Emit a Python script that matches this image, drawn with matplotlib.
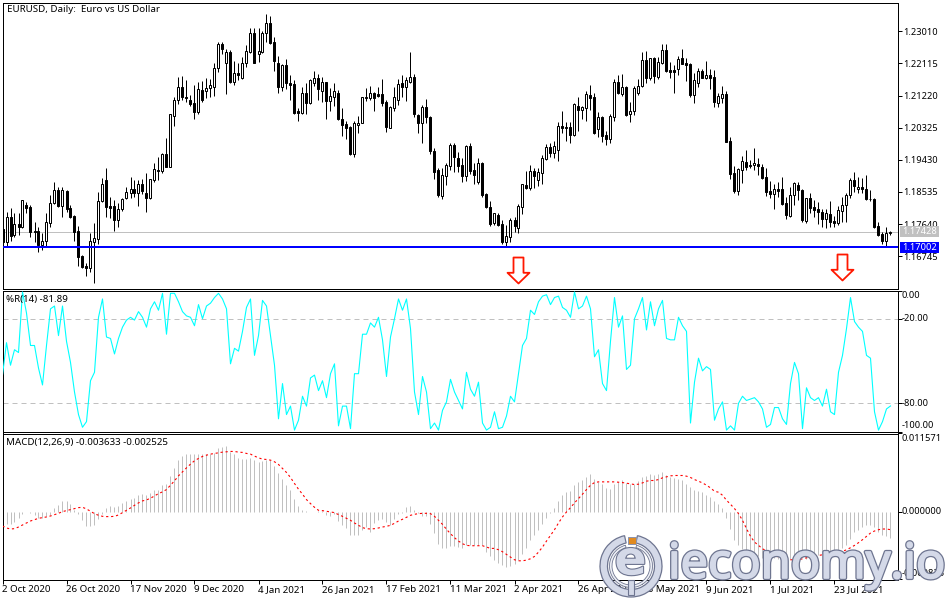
import numpy as np
import matplotlib
matplotlib.use("Agg")
import matplotlib.pyplot as plt
from matplotlib.path import Path
from matplotlib.patches import Rectangle, Wedge
import matplotlib.patheffects as pe

plt.rcParams['font.family'] = ['Noto Sans', 'DejaVu Sans']

# Prices in units of 0.0001
open_ = [11750,11713,11783,11733,11764,11757,11817,11811,11745,11745,
11706,11718,11768,11822,11858,11815,11856,11808,11786,11745,
11675,11647,11641,11715,11723,11828,11887,11814,11814,11775,
11805,11838,11850,11861,11852,11876,11850,11836,11887,11916,
11911,11959,11924,12066,12111,12145,12119,12110,12100,12077,
12137,12136,12142,12147,12198,12267,12214,12242,12161,12184,
12170,12213,12244,12295,12239,12244,12295,12323,12270,12212,
12147,12207,12156,12153,12079,12074,12128,12102,12158,12170,
12135,12159,12108,12119,12129,12058,12042,12034,11959,12041,
12047,12115,12116,12128,12125,12125,12103,12033,12088,12111,
12156,12147,12161,12173,12068,12046,12089,12062,11967,11916,
11843,11899,11927,11984,11949,11928,11899,11981,11914,11882,
11935,11848,11811,11766,11789,11764,11715,11729,11775,11754,
11812,11872,11864,11911,11887,11907,11944,11979,11963,11970,
12036,12032,12034,12012,12093,12083,12088,12123,12118,12030,
12062,12012,12002,12063,12159,12126,12147,12071,12078,12128,
12148,12220,12171,12226,12174,12213,12249,12193,12193,12197,
12226,12213,12210,12124,12158,12191,12170,12178,12173,12100,
12115,12125,11995,11905,11855,11916,11936,11926,11929,11932,
11923,11894,11856,11849,11863,11861,11822,11786,11844,11873,
11859,11772,11837,11811,11806,11798,11779,11791,11773,11766,
11801,11816,11844,11887,11862,11867,11863,11835,11835,11758,
11736,11718,11738]
close = [11715,11783,11731,11764,11757,11830,11810,11743,11743,11706,
11716,11769,11822,11858,11815,11858,11806,11785,11743,11673,
11645,11641,11716,11724,11828,11876,11812,11810,11775,11806,
11835,11853,11861,11851,11876,11857,11838,11889,11917,11911,
11959,11924,12070,12111,12145,12118,12114,12098,12077,12139,
12110,12143,12151,12198,12267,12252,12242,12161,12184,12178,
12212,12247,12295,12213,12246,12295,12323,12269,12219,12147,
12207,12156,12151,12074,12074,12128,12102,12165,12170,12139,
12159,12108,12120,12134,12058,12041,12032,11959,12047,12047,
12117,12117,12128,12116,12121,12102,12035,12089,12117,12154,
12147,12165,12173,12072,12046,12089,12061,11968,11910,11845,
11901,11928,11984,11950,11927,11899,11981,11913,11901,11934,
11845,11811,11765,11794,11761,11715,11731,11775,11759,11814,
11876,11864,11911,11899,11908,11947,11979,11963,11981,12036,
12032,12034,12013,12098,12082,12089,12125,12116,12019,12061,
12009,12002,12065,12161,12128,12145,12068,12078,12143,12148,
12220,12172,12226,12176,12215,12249,12191,12189,12188,12223,
12211,12208,12123,12165,12190,12172,12178,12172,12105,12121,
12125,11993,11904,11855,11918,11941,11923,11930,11935,11927,
11893,11853,11849,11863,11857,11821,11790,11844,11878,11859,
11775,11837,11810,11803,11799,11779,11794,11771,11768,11802,
11816,11844,11887,11871,11868,11863,11834,11833,11757,11734,
11718,11738,11743]
high = [11775,11799,11808,11794,11794,11832,11826,11817,11771,11757,
11738,11794,11845,11880,11868,11868,11859,11817,11789,11759,
11678,11655,11738,11766,11854,11893,11919,11840,11831,11824,
11837,11868,11896,11887,11887,11891,11905,11890,11933,11952,
11961,12003,12072,12117,12174,12176,12165,12123,12151,12161,
12162,12170,12167,12212,12272,12270,12253,12249,12219,12212,
12230,12263,12309,12309,12309,12303,12349,12343,12284,12232,
12209,12223,12179,12165,12086,12145,12156,12167,12190,12182,
12173,12161,12142,12156,12137,12086,12051,12037,12050,12065,
12119,12142,12148,12133,12147,12167,12110,12093,12147,12167,
12179,12173,12243,12182,12071,12096,12112,12065,11975,11919,
11919,11933,11989,11989,11966,11947,11984,11989,11933,11947,
11938,11852,11828,11796,11794,11775,11761,11780,11785,11820,
11877,11913,11928,11919,11919,11956,11987,11989,11996,12049,
12079,12049,12049,12100,12117,12093,12135,12151,12128,12077,
12065,12024,12071,12169,12179,12182,12148,12105,12148,12167,
12244,12246,12228,12230,12230,12265,12265,12216,12207,12232,
12253,12226,12213,12186,12200,12195,12218,12195,12193,12128,
12148,12135,12007,11926,11921,11954,11970,11942,11975,11947,
11931,11919,11884,11876,11882,11894,11840,11866,11882,11882,
11861,11838,11850,11831,11826,11805,11805,11829,11786,11815,
11840,11851,11893,11908,11896,11893,11901,11859,11837,11771,
11743,11755,11745]
low = [11706,11703,11718,11727,11734,11754,11794,11729,11715,11687,
11692,11701,11757,11820,11811,11785,11799,11780,11718,11647,
11641,11620,11631,11601,11710,11826,11785,11780,11746,11757,
11801,11833,11838,11840,11815,11847,11799,11834,11882,11887,
11905,11922,11922,12037,12098,12110,12105,12093,12058,12071,
12105,12114,12117,12122,12188,12239,12126,12158,12151,12165,
12167,12202,12241,12212,12216,12241,12272,12267,12191,12128,
12135,12139,12110,12072,12052,12071,12072,12098,12150,12111,
12105,12058,12079,12093,12054,12009,12000,11956,11952,12019,
12045,12108,12111,12079,12119,12093,12020,12032,12080,12096,
12119,12107,12156,12061,12017,11991,12045,11959,11891,11840,
11835,11873,11915,11909,11910,11882,11885,11903,11875,11876,
11840,11808,11760,11761,11759,11710,11703,11713,11743,11738,
11792,11861,11859,11864,11870,11876,11942,11952,11949,11941,
12019,11996,11991,12009,12024,12056,12052,12082,12015,12006,
11993,11984,11991,12052,12126,12121,12065,12049,12068,12123,
12145,12156,12165,12158,12167,12210,12188,12171,12130,12179,
12209,12162,12119,12102,12145,12170,12168,12141,12091,12091,
12100,11992,11890,11851,11845,11879,11915,11919,11915,11901,
11891,11843,11838,11805,11840,11817,11778,11783,11818,11831,
11771,11768,11794,11785,11764,11755,11752,11757,11757,11761,
11771,11771,11838,11854,11851,11850,11831,11828,11754,11732,
11710,11703,11734]

williams_r = [-60,-37,-53,-42,-44,-1,-16,-39,-39,-55,
-67,-39,-13,-11,-32,-11,-36,-51,-72,-88,
-97,-93,-64,-58,-19,-6,-33,-34,-45,-34,
-26,-21,-19,-21,-15,-19,-26,-13,-8,-14,
-2,-31,-2,-2,-8,-15,-18,-19,-25,-10,
-20,-11,-9,-5,-2,-6,-13,-52,-41,-43,
-29,-12,-6,-46,-32,-7,-11,-32,-53,-91,
-66,-88,-82,-99,-92,-75,-82,-62,-60,-71,
-64,-76,-59,-52,-96,-82,-82,-98,-59,-59,
-31,-31,-23,-26,-19,-35,-61,-33,-20,-6,
-14,-6,-27,-72,-88,-61,-72,-98,-94,-99,
-85,-79,-63,-72,-78,-84,-58,-70,-75,-65,
-94,-99,-97,-86,-98,-97,-89,-75,-79,-59,
-39,-34,-14,-17,-8,-4,-3,-10,-5,-4,
-12,-14,-19,-1,-13,-11,-4,-13,-47,-42,
-66,-71,-36,-5,-26,-18,-56,-53,-20,-13,
-5,-28,-8,-25,-13,-7,-34,-35,-35,-19,
-25,-29,-94,-65,-48,-57,-54,-56,-92,-84,
-79,-99,-96,-99,-80,-75,-78,-77,-76,-79,
-84,-97,-95,-83,-83,-91,-95,-66,-51,-59,
-98,-69,-76,-78,-76,-82,-70,-86,-88,-58,
-46,-27,-5,-22,-26,-29,-46,-48,-86,-99,
-93,-84,-81.89]

# MACD values in units of 0.00001
macd_hist = [-190,-176,-166,-142,-78,-20,10,-10,-44,-78,
-78,-59,-44,68,107,161,161,127,29,-20,
-107,-205,-205,-190,-93,-20,59,88,78,88,
137,166,200,215,249,264,249,283,322,332,
395,410,527,649,761,825,849,849,849,849,
849,849,849,859,932,956,966,883,849,786,
771,771,786,761,737,752,761,761,673,576,
483,395,322,190,88,39,15,5,10,20,
15,-44,-59,-29,-127,-190,-229,-337,-337,-337,
-264,-215,-288,-151,-107,-93,-142,-190,-93,-20,
-10,78,88,29,-10,-59,-59,-166,-303,-459,
-517,-517,-498,-498,-508,-517,-483,-483,-483,-483,
-483,-581,-644,-693,-737,-776,-800,-791,-752,-703,
-605,-517,-410,-337,-254,-166,-78,-5,68,166,
249,298,312,395,444,468,517,556,493,444,
420,361,346,420,444,468,429,420,420,459,
508,527,556,551,566,581,542,508,503,493,
468,420,371,332,312,298,259,224,166,117,
68,-78,-239,-400,-483,-532,-556,-595,-605,-644,
-664,-678,-678,-664,-678,-664,-654,-678,-693,-678,
-654,-678,-678,-669,-630,-605,-605,-581,-556,-547,
-517,-483,-386,-288,-254,-215,-181,-190,-215,-288,
-337,-351,-371]
macd_signal = [-200,-229,-244,-239,-215,-185,-156,-127,-107,-88,
-78,-68,-54,-34,-15,10,24,39,54,68,
73,49,15,-20,-44,-59,-63,-63,-59,-39,
-5,29,63,102,137,166,181,205,239,273,
298,332,395,459,532,590,649,703,752,786,
815,834,849,859,869,878,883,888,888,878,
874,859,849,820,795,776,771,761,737,698,
639,581,508,420,337,264,185,127,73,29,
24,15,5,-5,-34,-59,-88,-117,-156,-190,
-224,-239,-244,-239,-229,-215,-205,-190,-161,-127,
-102,-73,-44,-29,-20,-15,-15,-20,-59,-117,
-176,-249,-312,-371,-420,-459,-483,-488,-488,-488,
-488,-508,-527,-527,-547,-576,-615,-654,-693,-708,
-708,-698,-678,-644,-581,-508,-420,-337,-254,-156,
-68,5,68,137,200,264,332,395,434,444,
444,444,444,444,439,434,425,415,405,410,
429,454,464,464,478,503,517,532,537,537,
537,527,508,478,454,429,395,356,307,293,
249,176,117,54,-20,-117,-239,-351,-434,-483,
-532,-566,-595,-625,-654,-673,-688,-693,-693,-693,
-678,-664,-664,-644,-630,-620,-620,-615,-605,-595,
-571,-547,-517,-483,-444,-400,-351,-303,-273,-254,
-244,-244,-254]

price_ticks = [1.23010, 1.22115, 1.21220, 1.20325, 1.19430, 1.18535, 1.17640, 1.16745]
wr_ticks = [0, -20, -80, -100]
date_labels = ['2 Oct 2020', '26 Oct 2020', '17 Nov 2020', '9 Dec 2020', '4 Jan 2021',
               '26 Jan 2021', '17 Feb 2021', '11 Mar 2021', '2 Apr 2021', '26 Apr 2021',
               '18 May 2021', '9 Jun 2021', '1 Jul 2021', '23 Jul 2021']
current_price = 1.17428
level_price = 1.17002
arrow_bars = [128.8, 209.8]
arrow_prices = [1.16362, 1.16446]

n = len(close)
assert all(len(a) == n for a in (open_, high, low, williams_r, macd_hist, macd_signal))

x = np.arange(n)
O, C, H, L = [np.array(a) / 1e4 for a in (open_, close, high, low)]

W, HT = 950, 600
fig = plt.figure(figsize=(9.5, 6.0), dpi=100, facecolor='white')

def panel(top, bottom, left=2.5, right=897.5):
    return fig.add_axes([left / W, 1 - bottom / HT, (right - left) / W, (bottom - top) / HT])

ax1 = panel(2.5, 288.5)
ax2 = panel(290.5, 431.5)
ax3 = panel(433.5, 579.5)
PX = 0.72
FS = 6.7
FT = 7.0
TXT = '#000000'

for ax in (ax1, ax2, ax3):
    ax.set_xlim(0, 223.75)
    for s in ax.spines.values():
        s.set_linewidth(PX)
        s.set_color('black')
    ax.yaxis.tick_right()
    ax.tick_params(axis='y', length=2.6, width=PX, pad=1.5, labelsize=FS, color='black')
    ax.tick_params(axis='x', bottom=False, labelbottom=False)

# ---- price panel
ax1.set_ylim(1.15847, 1.23812)
ax1.vlines(x, L, H, color='black', lw=PX, zorder=2)
up = C >= O
ax1.bar(x[up], np.maximum(C - O, 0.00003)[up], bottom=O[up], width=0.5, facecolor='white',
        edgecolor='black', linewidth=PX, zorder=3)
ax1.bar(x[~up], (O - C)[~up], bottom=C[~up], width=0.5, facecolor='black',
        edgecolor='black', linewidth=PX, zorder=3)
ax1.axhline(current_price, color='#C0C0C0', lw=PX, zorder=1)
ax1.axhline(level_price, color='#0000FF', lw=1.44, zorder=4)
ax1.set_yticks(price_ticks)
ax1.set_yticklabels([f'{p:.5f}' for p in price_ticks])
ax1.set_xticks([])
fig.text(7 / W, 1 - 10 / HT, 'EURUSD, Daily:  Euro vs US Dollar', fontsize=FT, va='center', ha='left', color=TXT)

vv = [(-5, 13), (5, 13), (5, -2.3), (11, -2.3), (0, -13), (-11, -2.3), (-5, -2.3), (-5, 13)]
arrow = Path(vv, closed=True)
ax1.plot(arrow_bars, arrow_prices, ls='none', marker=arrow, ms=18.7, mfc='white', mec='#FF1800', mew=1.3, zorder=5)

for y0, val, col, tc in ((226, current_price, '#C0C0C0', 'white'), (242, level_price, '#0000FF', 'white')):
    fig.add_artist(Rectangle((900 / W, 1 - (y0 + 10.7) / HT), 39 / W, 10.7 / HT, transform=fig.transFigure,
                             facecolor=col, edgecolor='none', zorder=6))
    fig.text(919.5 / W, 1 - (y0 + 5.4) / HT, f'{val:.5f}', fontsize=FS, color=tc, ha='center', va='center', zorder=7)

# ---- Williams %R
ax2.set_ylim(-99.9, -0.35)
ax2.axhline(-20, color='#C0C0C0', lw=PX, ls=(0, (5, 4)), zorder=1)
ax2.axhline(-80, color='#C0C0C0', lw=PX, ls=(0, (5, 4)), zorder=1)
ax2.plot(x, williams_r, color='#00FFFF', lw=0.8, zorder=3)
ax2.set_yticks(wr_ticks)
ax2.set_yticklabels([])
ax2.set_xticks([])
for txt, yp in (('0.00', 295.5), ('-20.00', 318.5), ('-80.00', 403.5), ('-100.00', 425.7)):
    fig.text(902 / W, 1 - yp / HT, txt, fontsize=FS, va='center', ha='left', color=TXT)
fig.text(6 / W, 1 - 299.5 / HT, '%R(14) -81.89', fontsize=FT, va='center', ha='left', color=TXT)

# ---- MACD
mh = np.array(macd_hist) / 1e5
ms = np.array(macd_signal) / 1e5
ax3.set_ylim(-0.00981, 0.01150)
ax3.vlines(x, 0, mh, color='#C0C0C0', lw=PX, zorder=1)
ax3.plot(x, ms, color='#FF0000', lw=0.8, ls=(0, (2, 2.5)), zorder=3)
ax3.set_yticks([0.01150, 0, -0.0097])
ax3.set_yticklabels([])
ax3.set_xticks(x[::16][:len(date_labels)])
ax3.set_xticklabels(date_labels, fontsize=FT, ha='left', color=TXT)
ax3.tick_params(axis='x', bottom=True, labelbottom=True, length=2.6, width=PX, pad=1.2)
for t in ax3.get_xticklabels():
    t.set_ha('left')
for txt, yp in (('0.011571', 438.3), ('0.000000', 511.7), ('-0.009825', 573)):
    fig.text(902 / W, 1 - yp / HT, txt, fontsize=FS, va='center', ha='left', color=TXT)
fig.text(6 / W, 1 - 442.3 / HT, 'MACD(12,26,9) -0.003633 -0.002525', fontsize=FT, va='center', ha='left', color=TXT)

# ---- watermark
ov = fig.add_axes([0, 0, 1, 1], zorder=20)
ov.set_xlim(0, W)
ov.set_ylim(HT, 0)
ov.axis('off')
ov.patch.set_alpha(0)
SIL = '#D4D9E8'
EDG = '#6E7590'
heavy = [pe.Stroke(linewidth=3.0, foreground=EDG), pe.Stroke(linewidth=1.2, foreground=SIL), pe.Normal()]
ov.add_patch(Wedge((631, 566), 31, 282, 258, width=7.5, facecolor=SIL, edgecolor=EDG, lw=0.9))
ov.add_patch(Wedge((631, 566), 21.5, 285, 255, width=2.5, facecolor='#EEF0F6', edgecolor=EDG, lw=0.6))
ov.add_patch(Rectangle((628, 536.5), 7.5, 7, facecolor='#E08A20', edgecolor='#8B92AC', lw=0.7))
ov.add_patch(Rectangle((628, 580), 6, 15, facecolor=SIL, edgecolor=EDG, lw=0.8))
ov.text(630.5, 562, 'e', fontsize=34, fontweight='bold', ha='center', va='center', color=SIL,
        path_effects=[pe.withStroke(linewidth=1.6, foreground=EDG)], family='DejaVu Sans')
ov.text(668, 578, 'ieconomy.io', fontsize=35, ha='left', va='baseline', color=SIL, path_effects=heavy,
        family='Noto Sans')

fig.savefig('out.png', dpi=100)
